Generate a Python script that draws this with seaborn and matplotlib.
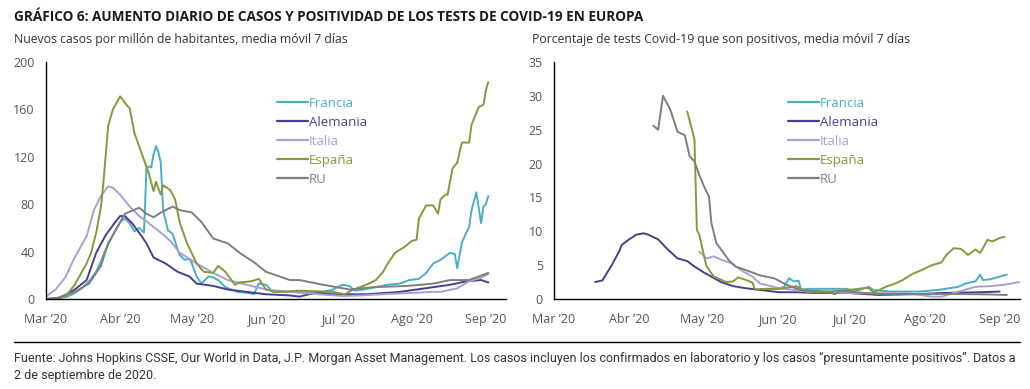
import matplotlib
matplotlib.use("Agg")
import matplotlib.pyplot as plt
from matplotlib.lines import Line2D
import pandas as pd
import seaborn as sns

COUNTRIES = ["Francia", "Alemania", "Italia", "España", "RU"]
COLORS = {
    "Francia": "#4aaec8",
    "Alemania": "#4b3d8f",
    "Italia": "#a8a0d4",
    "España": "#85993c",
    "RU": "#7d7e80",
}
MONTHS = ["03-01", "04-01", "05-01", "06-01", "07-01", "08-01", "09-01"]
MONTH_LABELS = ["Mar \u201920", "Abr \u201920", "May \u201920", "Jun \u201920",
                "Jul \u201920", "Ago \u201920", "Sep \u201920"]

# --- panel 1: nuevos casos por millón (media móvil 7 días)
fr_case_dates = ["03-01", "03-05", "03-10", "03-13", "03-16", "03-19", "03-22", "03-24", "03-26",
                 "03-28", "03-30", "04-01", "04-03", "04-05", "04-07", "04-09", "04-11", "04-12",
                 "04-13", "04-14", "04-15", "04-16", "04-17", "04-18", "04-19", "04-21", "04-23",
                 "04-25", "04-26", "04-28", "04-30", "05-01", "05-03", "05-05", "05-06", "05-08",
                 "05-10", "05-12", "05-15", "05-20", "05-25", "05-27", "05-29", "06-01", "06-04",
                 "06-11", "06-23", "06-29", "07-03", "07-06", "07-08", "07-12", "07-17", "07-22",
                 "07-27", "07-31", "08-04", "08-07", "08-10", "08-13", "08-15", "08-17", "08-19",
                 "08-20", "08-22", "08-25", "08-26", "08-28", "08-30", "08-31", "09-01", "09-02"]
fr_case_vals = [0, 0.5, 2, 5, 9, 15, 23, 32, 42, 50, 58, 65, 68, 64, 57, 60, 56, 110,
                112, 111, 122, 129, 124, 115, 75, 58, 55, 42, 37, 33, 34, 30, 19, 13, 15, 19,
                18, 16, 10, 6, 5, 4, 13, 12, 6, 6, 5, 8, 12, 11, 7, 8, 10, 12,
                13, 16, 17, 22, 30, 33, 36, 39, 38, 26, 48, 61, 75, 90, 64, 78, 80, 87]

de_case_dates = ["03-01", "03-07", "03-13", "03-18", "03-22", "03-26", "03-30", "04-01", "04-03",
                 "04-06", "04-10", "04-12", "04-15", "04-20", "04-25", "04-30", "05-03", "05-10",
                 "05-16", "05-24", "06-01", "06-11", "06-15", "06-19", "06-23", "06-29", "07-06",
                 "07-13", "07-20", "07-27", "08-03", "08-10", "08-17", "08-24", "08-30", "09-02"]
de_case_vals = [0, 1, 8, 16, 39, 54, 65, 70, 70, 64, 53, 47, 35, 30, 23, 19, 13, 11,
                8, 6, 4, 3, 2, 4, 5, 4, 4, 4, 5, 6, 8, 10, 12, 15, 16, 14]

it_case_dates = ["03-01", "03-05", "03-09", "03-13", "03-18", "03-21", "03-24", "03-27", "03-29",
                 "04-01", "04-05", "04-09", "04-13", "04-18", "04-22", "04-26", "05-03", "05-10",
                 "05-16", "05-24", "06-01", "06-11", "06-23", "07-03", "07-11", "07-20", "07-31",
                 "08-10", "08-13", "08-20", "08-25", "08-30", "09-02"]
it_case_vals = [2, 8, 18, 35, 53, 75, 87, 95, 94, 88, 78, 70, 64, 56, 49, 39, 30, 22,
                16, 12, 8, 6, 4, 2.5, 3, 4, 5, 6, 6, 9, 15, 18, 21]

es_case_dates = ["03-01", "03-06", "03-09", "03-13", "03-18", "03-20", "03-22", "03-24", "03-25",
                 "03-27", "03-29", "04-01", "04-04", "04-05", "04-07", "04-10", "04-13", "04-15",
                 "04-16", "04-18", "04-19", "04-22", "04-24", "04-26", "04-29", "05-03", "05-06",
                 "05-10", "05-12", "05-15", "05-19", "05-21", "05-26", "05-29", "06-01", "06-05",
                 "06-15", "06-29", "07-04", "07-07", "07-13", "07-17", "07-20", "07-22", "07-25",
                 "07-29", "08-01", "08-03", "08-04", "08-07", "08-10", "08-12", "08-13", "08-15",
                 "08-16", "08-18", "08-20", "08-21", "08-22", "08-25", "08-26", "08-29", "08-31",
                 "09-01", "09-02"]
es_case_vals = [0, 0, 2, 12, 30, 40, 56, 78, 98, 146, 160, 171, 163, 161, 140, 123, 106, 91,
                99, 88, 96, 92, 84, 64, 47, 30, 23, 22, 28, 23, 12, 14, 15, 17, 8, 6,
                7, 6, 4, 7.6, 12, 16, 23, 30, 39, 44, 49, 50, 68, 79, 79, 72, 84, 88,
                88, 110, 115, 124, 132, 132, 147, 162, 164, 176, 183]

uk_case_dates = ["03-01", "03-05", "03-13", "03-19", "03-24", "03-27", "03-31", "04-03", "04-09",
                 "04-12", "04-15", "04-18", "04-20", "04-23", "04-26", "05-01", "05-05", "05-10",
                 "05-16", "05-21", "05-27", "06-01", "06-11", "06-15", "06-25", "07-06", "07-16",
                 "07-30", "08-10", "08-17", "08-25", "09-02"]
uk_case_vals = [0, 0.5, 6, 13, 28, 47, 61, 72, 77, 72, 69, 73, 75, 78, 75, 73, 65, 51,
                47, 39, 31, 23, 16, 16, 12, 8, 10, 11, 13, 16, 16, 22]

# --- panel 2: % de tests positivos (media móvil 7 días)
fr_pos_dates = ["05-25", "06-02", "06-04", "06-06", "06-08", "06-10", "06-11", "06-14", "06-30",
                "07-03", "07-09", "07-11", "07-18", "07-30", "08-08", "08-15", "08-18", "08-22",
                "08-24", "08-25", "08-28", "09-01", "09-04"]
fr_pos_vals = [1.4, 1.6, 1.8, 3.05, 2.6, 2.7, 1.4, 1.5, 1.5, 1.1, 1.8, 1.3, 1.1, 1.1, 1.4,
               1.8, 2.3, 2.6, 3.6, 2.8, 2.9, 3.3, 3.6]

de_pos_dates = ["03-18", "03-21", "03-25", "03-28", "03-29", "04-01", "04-04", "04-07", "04-09",
                "04-13", "04-17", "04-21", "04-25", "04-28", "05-02", "05-05", "05-09", "05-14",
                "05-19", "05-26", "06-02", "06-09", "06-16", "06-30", "07-13", "07-27", "08-10",
                "08-24", "09-01"]
de_pos_vals = [2.5, 2.75, 5.1, 7.1, 8.0, 8.8, 9.5, 9.7, 9.5, 8.8, 7.3, 6.0, 5.6, 4.8, 3.9,
               3.3, 2.5, 1.9, 1.6, 1.3, 1.0, 1.0, 0.9, 0.9, 0.6, 0.7, 0.9, 1.0, 1.1]

it_pos_dates = ["04-30", "05-03", "05-06", "05-09", "05-13", "05-17", "05-22", "05-25", "06-02",
                "06-14", "07-04", "07-25", "08-04", "08-08", "08-15", "08-22", "08-28", "09-03",
                "09-09"]
it_pos_vals = [7.0, 6.0, 6.3, 5.8, 5.3, 4.3, 3.3, 2.3, 1.6, 1.1, 0.85, 0.85, 0.35, 0.35,
               1.1, 1.8, 1.9, 2.1, 2.5]

es_pos_dates = ["04-25", "04-27", "04-28", "04-29", "04-30", "05-02", "05-03", "05-06", "05-09",
                "05-11", "05-14", "05-16", "05-19", "05-22", "05-23", "05-27", "06-02", "06-09",
                "06-13", "06-18", "06-30", "07-07", "07-09", "07-11", "07-16", "07-20", "07-23",
                "07-27", "07-31", "08-04", "08-08", "08-10", "08-13", "08-16", "08-19", "08-22",
                "08-24", "08-27", "08-29", "09-01", "09-03"]
es_pos_vals = [27.7, 25.0, 23.5, 10.2, 9.5, 6.3, 4.8, 3.3, 2.85, 2.5, 2.6, 3.2, 2.85, 2.4,
               1.4, 1.5, 1.5, 1.9, 1.1, 1.0, 1.3, 1.6, 1.6, 0.95, 1.8, 2.3, 2.8, 3.7, 4.3,
               5.0, 5.4, 6.5, 7.5, 7.4, 6.5, 7.3, 6.8, 8.75, 8.5, 9.0, 9.2]

uk_pos_dates = ["04-11", "04-13", "04-15", "04-18", "04-21", "04-24", "04-26", "04-28", "04-30",
                "05-02", "05-04", "05-05", "05-07", "05-12", "05-15", "05-19", "05-25", "05-31",
                "06-05", "06-11", "06-22", "06-25", "06-27", "07-07", "07-13", "07-27", "08-10",
                "08-24", "09-04"]
uk_pos_vals = [25.6, 25.0, 30.0, 28.0, 24.7, 24.2, 21.1, 20.3, 18.3, 16.6, 15.1, 11.2, 8.3,
               5.8, 4.8, 4.3, 3.5, 3.05, 2.1, 1.3, 1.1, 0.7, 1.2, 0.9, 0.75, 0.75, 0.75,
               0.7, 0.6]


def to_frame(series):
    rows = []
    for country, (dates, vals) in series.items():
        for d, v in zip(dates, vals, strict=True):
            rows.append((pd.Timestamp("2020-" + d), v, country))
    return pd.DataFrame(rows, columns=["fecha", "valor", "pais"])


cases = to_frame({
    "Francia": (fr_case_dates, fr_case_vals),
    "Alemania": (de_case_dates, de_case_vals),
    "Italia": (it_case_dates, it_case_vals),
    "España": (es_case_dates, es_case_vals),
    "RU": (uk_case_dates, uk_case_vals),
})
positivity = to_frame({
    "Francia": (fr_pos_dates, fr_pos_vals),
    "Alemania": (de_pos_dates, de_pos_vals),
    "Italia": (it_pos_dates, it_pos_vals),
    "España": (es_pos_dates, es_pos_vals),
    "RU": (uk_pos_dates, uk_pos_vals),
})

sns.set_style("white")
plt.rcParams["font.family"] = ["Open Sans", "DejaVu Sans"]

W, H = 1030, 389
fig = plt.figure(figsize=(W / 100, H / 100), dpi=100)
ax1 = fig.add_axes([46 / W, 1 - 299 / H, 460 / W, 237 / H])
ax2 = fig.add_axes([554 / W, 1 - 299 / H, 466 / W, 237 / H])

panels = [
    (ax1, cases, [0, 40, 80, 120, 160, 200], 200),
    (ax2, positivity, [0, 5, 10, 15, 20, 25, 30, 35], 35),
]
for ax, df, yticks, ymax in panels:
    sns.lineplot(data=df, x="fecha", y="valor", hue="pais", hue_order=COUNTRIES,
                 palette=COLORS, estimator=None, sort=True, legend=False,
                 linewidth=1.4, ax=ax)
    ax.set_xlim(pd.Timestamp("2020-03-01"), pd.Timestamp("2020-09-09 10:00"))
    ax.set_ylim(0, ymax)
    ax.set_yticks(yticks)
    ax.set_xticks([pd.Timestamp("2020-" + m) for m in MONTHS])
    ax.set_xticklabels(MONTH_LABELS)
    ax.set_xlabel("")
    ax.set_ylabel("")
    sns.despine(ax=ax)
    for s in ("left", "bottom"):
        ax.spines[s].set_color("black")
        ax.spines[s].set_linewidth(1.0)
    ax.tick_params(axis="both", direction="out", length=4, width=1, color="black",
                   labelsize=9, labelcolor="#555555", pad=4)
    ax.tick_params(axis="x", pad=6)

    handles = [Line2D([], [], color=COLORS[c], lw=1.6) for c in COUNTRIES]
    ax.legend(handles, COUNTRIES, loc="upper left", bbox_to_anchor=(0.49, 0.875),
              frameon=False, handlelength=2.4, handletextpad=0.05,
              labelspacing=0.45, fontsize=9.5, labelcolor="linecolor",
              borderaxespad=0)

fig.text(14 / W, 1 - 17 / H,
         "GRÁFICO 6: AUMENTO DIARIO DE CASOS Y POSITIVIDAD DE LOS TESTS DE COVID-19 EN EUROPA",
         fontsize=9.8, fontweight="bold", color="#1a1a1a", va="center", ha="left")
fig.text(14 / W, 1 - 40 / H, "Nuevos casos por millón de habitantes, media móvil 7 días",
         fontsize=8.8, color="#333333", va="center", ha="left")
fig.text(532 / W, 1 - 40 / H, "Porcentaje de tests Covid-19 que son positivos, media móvil 7 días",
         fontsize=8.8, color="#333333", va="center", ha="left")

fig.add_artist(Line2D([14 / W, 1020 / W], [1 - 342 / H, 1 - 342 / H], color="black", lw=1))
footer_font = ["Roboto", "DejaVu Sans"]
fig.text(14 / W, 1 - 358 / H,
         "Fuente: Johns Hopkins CSSE, Our World in Data, J.P. Morgan Asset Management. Los casos "
         "incluyen los confirmados en laboratorio y los casos \u201cpresuntamente positivos\u201d. Datos a",
         fontsize=9.0, color="#333333", va="center", ha="left", family=footer_font)
fig.text(14 / W, 1 - 376 / H, "2 de septiembre de 2020.",
         fontsize=9.0, color="#333333", va="center", ha="left", family=footer_font)

fig.savefig("out.png", dpi=100)
